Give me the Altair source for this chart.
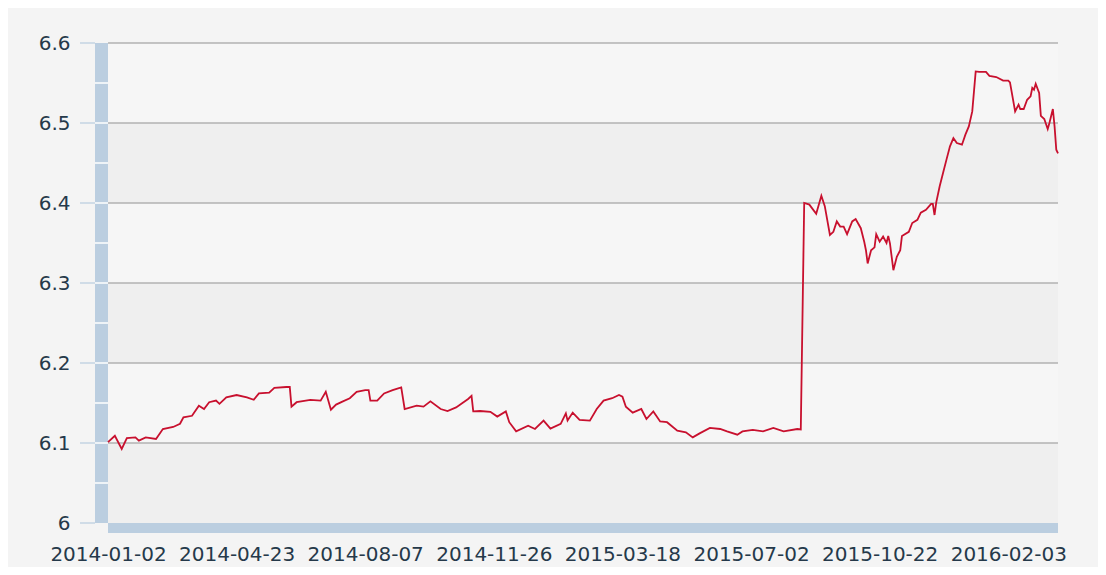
import altair as alt
import pandas as pd

# trading-day index and USD/CNY value
day_index = [0, 4, 8, 11, 16, 18, 22, 28, 32, 38, 42, 44, 49, 53, 56, 59, 63, 65, 69, 75,
             81, 85, 88, 94, 97, 104, 106, 107, 110, 118, 124, 127, 130, 133, 137, 141, 145, 150,
             152, 153, 157, 161, 166, 171, 173, 180, 184, 188, 194, 198, 203, 210, 212, 213, 217,
             223, 227, 232, 234, 238, 245, 249, 254, 258, 264, 267, 268, 271, 275, 281, 285, 289,
             294, 298, 300, 302, 306, 311, 314, 318, 322, 326, 332, 337, 341, 345, 351, 357, 361,
             367, 370, 376, 382, 388, 394, 402, 404, 406, 409, 413, 416, 418, 421, 423, 425, 427,
             429, 431, 434, 436, 439, 441, 442, 443, 445, 447, 448, 450, 452, 454, 455, 456, 458,
             460, 462, 463, 467, 469, 472, 474, 477, 480, 481, 482, 483, 485, 487, 489, 491, 493,
             495, 498, 500, 502, 504, 506, 508, 512, 514, 518, 522, 525, 526, 529, 531, 532, 534,
             536, 538, 539, 540, 541, 543, 544, 546, 548, 549, 551, 552, 553, 554]
rate = [6.101, 6.109, 6.0925, 6.106, 6.107, 6.103, 6.107, 6.105, 6.1175, 6.120, 6.124, 6.132,
        6.134, 6.1466, 6.1425, 6.151, 6.153, 6.149, 6.157, 6.160, 6.157, 6.154, 6.162, 6.163,
        6.169, 6.170, 6.170, 6.1454, 6.151, 6.154, 6.153, 6.164, 6.1416, 6.148, 6.152, 6.156,
        6.164, 6.166, 6.166, 6.153, 6.153, 6.162, 6.166, 6.1695, 6.1425, 6.1466, 6.1454, 6.152,
        6.1425, 6.140, 6.1445, 6.155, 6.159, 6.1395, 6.140, 6.139, 6.133, 6.1395, 6.126, 6.1145,
        6.1216, 6.1175, 6.128, 6.118, 6.124, 6.137, 6.128, 6.138, 6.1288, 6.128, 6.1425, 6.153,
        6.156, 6.160, 6.158, 6.1454, 6.138, 6.1425, 6.130, 6.1395, 6.127, 6.126, 6.1154, 6.1133,
        6.107, 6.112, 6.1188, 6.1175, 6.1145, 6.1104, 6.1145, 6.1163, 6.1145, 6.1188, 6.1145,
        6.1175, 6.117, 6.400, 6.398, 6.3865, 6.409, 6.396, 6.360, 6.364, 6.377, 6.3705, 6.3705,
        6.361, 6.377, 6.380, 6.3685, 6.3516, 6.341, 6.3244, 6.341, 6.3446, 6.361, 6.3516, 6.358,
        6.350, 6.3588, 6.3496, 6.316, 6.3328, 6.341, 6.3588, 6.364, 6.375, 6.379, 6.388, 6.3916,
        6.399, 6.399, 6.385, 6.4008, 6.421, 6.4378, 6.4545, 6.4708, 6.481, 6.475, 6.4729, 6.4854,
        6.4958, 6.5145, 6.5645, 6.564, 6.564, 6.559, 6.5575, 6.553, 6.553, 6.5508, 6.5145, 6.523,
        6.5175, 6.5175, 6.529, 6.5333, 6.5438, 6.5416, 6.549, 6.5375, 6.509, 6.505, 6.4925, 6.500,
        6.5175, 6.4958, 6.4666, 6.462]

x_tick_index = [0, 75, 150, 225, 300, 375, 450, 525]
x_tick_labels = ["2014-01-02", "2014-04-23", "2014-08-07", "2014-11-26",
                 "2015-03-18", "2015-07-02", "2015-10-22", "2016-02-03"]
y_ticks = [6.0, 6.1, 6.2, 6.3, 6.4, 6.5, 6.6]
y_minor = [6.05, 6.1, 6.15, 6.2, 6.25, 6.3, 6.35, 6.4, 6.45, 6.5, 6.55]
dark_band_low = [6.0, 6.2, 6.4]
dark_band_high = [6.1, 6.3, 6.5]

X_MAX = 554
BAR = "#bbcee0"
FONT = "DejaVu Sans"

df = pd.DataFrame({"i": day_index, "v": rate})
bands = pd.DataFrame({"lo": dark_band_low, "hi": dark_band_high, "x0": [0] * 3, "x1": [X_MAX] * 3})
grid = pd.DataFrame({"y": y_ticks[1:], "x0": [0] * 6, "x1": [X_MAX] * 6})
minor = pd.DataFrame({"y": y_minor})
major = pd.DataFrame({"y": y_ticks})
frame = pd.DataFrame({"x0": [0], "x1": [X_MAX], "y0": [6.0], "y1": [6.6]})

xscale = alt.Scale(domain=[0, X_MAX], nice=False, zero=False)
yscale = alt.Scale(domain=[6.0, 6.6], nice=False, zero=False)

label_expr = "[" + ",".join("'" + s + "'" for s in x_tick_labels) + "][round(datum.value / 75)]"

xaxis = alt.Axis(values=x_tick_index, labelExpr=label_expr, title=None,
                 domain=False, ticks=False, grid=False, labelPadding=21,
                 labelFont=FONT, labelFontSize=20, labelColor="#25394a",
                 labelOverlap=False, labelFlush=False)
yaxis = alt.Axis(values=y_ticks, format=".1~f", title=None, domain=False,
                 ticks=False, grid=False, labelPadding=38,
                 labelFont=FONT, labelFontSize=20, labelColor="#25394a")

band_layer = alt.Chart(bands).mark_rect(color="#efefef").encode(
    x=alt.X("x0:Q", scale=xscale, axis=xaxis),
    x2="x1:Q",
    y=alt.Y("lo:Q", scale=yscale, axis=yaxis),
    y2="hi:Q",
)

grid_layer = alt.Chart(grid).mark_rule(color="#b2b2b2", strokeWidth=1.5).encode(
    x=alt.X("x0:Q", scale=xscale, axis=xaxis),
    x2="x1:Q",
    y=alt.Y("y:Q", scale=yscale, axis=yaxis),
)

left_bar = alt.Chart(frame).mark_rect(color=BAR).encode(
    x=alt.value(-13),
    x2=alt.value(0),
    y=alt.Y("y1:Q", scale=yscale, axis=yaxis),
    y2="y0:Q",
)

minor_layer = alt.Chart(minor).mark_rule(color="white", strokeWidth=1.5).encode(
    x=alt.value(-13),
    x2=alt.value(0),
    y=alt.Y("y:Q", scale=yscale, axis=yaxis),
)

major_ticks = alt.Chart(major).mark_rule(color="#c4d4e3", strokeWidth=1.5).encode(
    x=alt.value(-28),
    x2=alt.value(-13),
    y=alt.Y("y:Q", scale=yscale, axis=yaxis),
)

bottom_bar = alt.Chart(frame).mark_rect(color=BAR).encode(
    x=alt.X("x0:Q", scale=xscale, axis=xaxis),
    x2="x1:Q",
    y=alt.value(480),
    y2=alt.value(490),
)

line = alt.Chart(df).mark_line(color="#c8102e", strokeWidth=1.8).encode(
    x=alt.X("i:Q", scale=xscale, axis=xaxis),
    y=alt.Y("v:Q", scale=yscale, axis=yaxis),
)

chart = alt.layer(band_layer, grid_layer, left_bar, minor_layer, major_ticks, bottom_bar, line).properties(
    width=950,
    height=480,
    autosize=alt.AutoSizeParams(type="none"),
    padding={"left": 100, "top": 35, "right": 40, "bottom": 44},
    background="#f4f4f4",
).configure_view(stroke=None, fill="#f6f6f6")

chart.save("out.html", embed_options={"renderer": "svg", "actions": False})
